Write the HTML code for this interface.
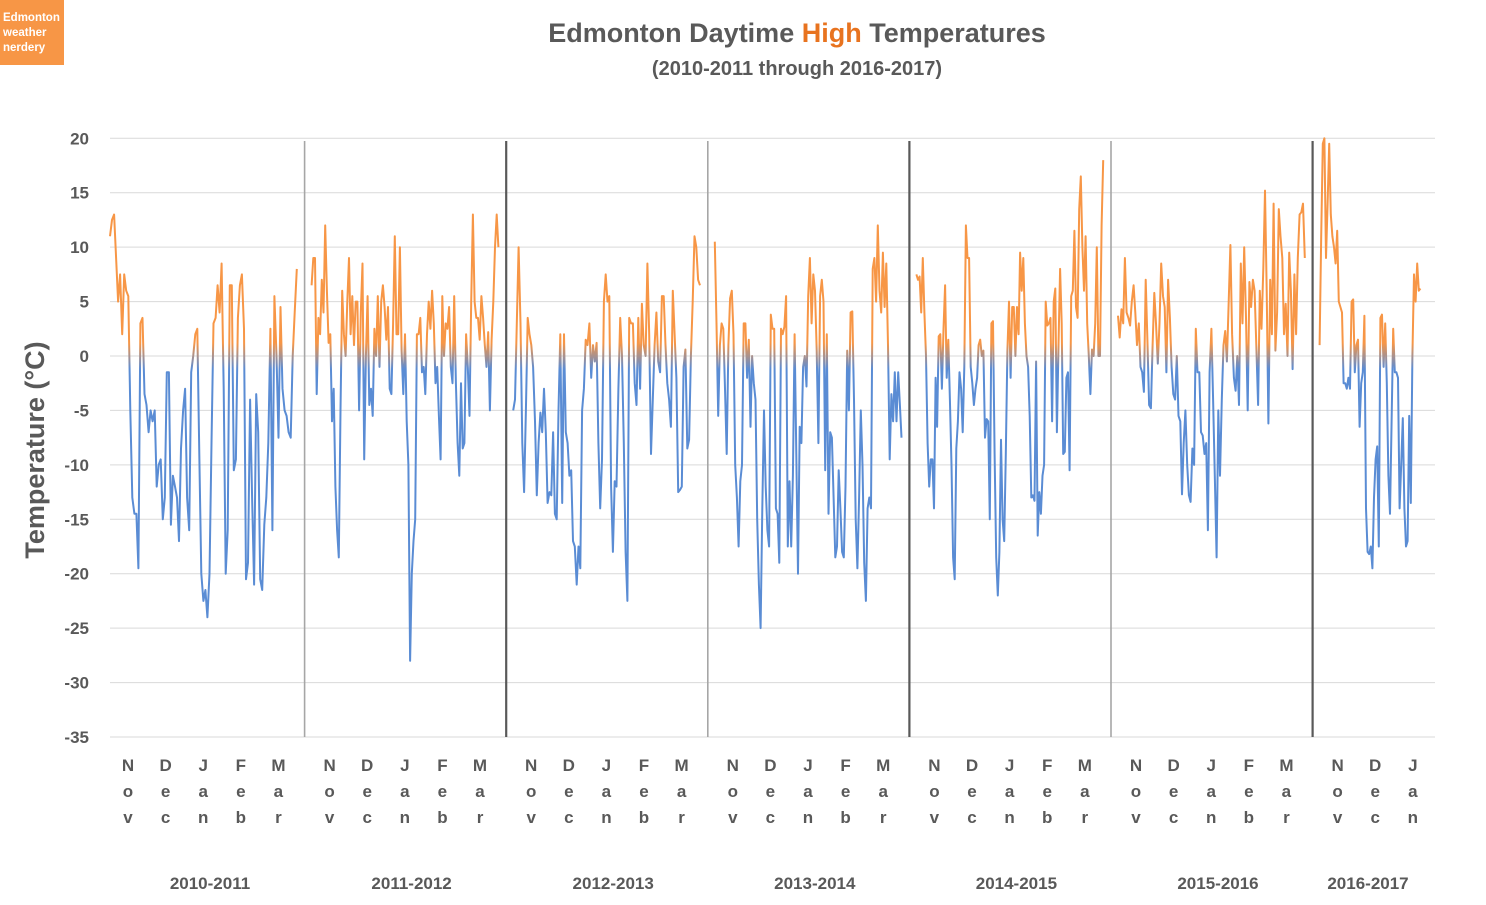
<!DOCTYPE html>
<html><head><meta charset="utf-8"><style>
body{margin:0;background:#fff;}
svg text{font-family:"Liberation Sans",sans-serif;font-weight:bold;fill:#595959;}
</style></head><body>
<svg id="chart" width="1486" height="900" viewBox="0 0 1486 900" xmlns="http://www.w3.org/2000/svg">
<defs>
<linearGradient id="lineGrad" gradientUnits="userSpaceOnUse" x1="0" y1="0" x2="0" y2="900">
<stop id="gs1" offset="0" stop-color="#F79646"/><stop id="gs2" offset="0" stop-color="#F79646"/><stop id="gs3" offset="0" stop-color="#5A8CD4"/><stop id="gs4" offset="1" stop-color="#5A8CD4"/>
</linearGradient>
</defs>
<rect x="0" y="0" width="64" height="65" fill="#F79646"/>
<text style="fill:#fff;font-size:11.5px"><tspan x="3" y="21">Edmonton</tspan><tspan x="3" y="36">weather</tspan><tspan x="3" y="51">nerdery</tspan></text>
<text x="797" y="42" text-anchor="middle" style="font-size:27px">Edmonton Daytime <tspan style="fill:#E8731F">High</tspan> Temperatures</text>
<text x="797" y="75" text-anchor="middle" style="font-size:20px">(2010-2011 through 2016-2017)</text>
<text transform="translate(44,450) rotate(-90)" text-anchor="middle" style="font-size:27px">Temperature (°C)</text>
<g id="grid"></g>
<g id="yticks"></g>
<g id="seps"></g>
<g id="series"></g>
<g id="xlabels"></g>
</svg>
<script>
const yTicks=[20,15,10,5,0,-5,-10,-15,-20,-25,-30,-35];
const seasonLabels=["2010-2011","2011-2012","2012-2013","2013-2014","2014-2015","2015-2016","2016-2017"];
const seasonLastDay=[150,150,150,150,150,150,81];
const monthsFull=["Nov","Dec","Jan","Feb","Mar"];
const monthsPartial=["Nov","Dec","Jan"];
const s2010=[11,12.5,13,9,5,7.5,2,7.5,6,5.5,-5,-13,-14.5,-14.5,-19.5,3,3.5,-3.5,-4.5,-7,-5,-6,-5,-12,-10,-9.5,-15,-13,-1.5,-1.5,-15.5,-11,-12,-13,-17,-8.5,-5,-3,-13,-16,-1.5,0,2,2.5,-9,-20,-22.5,-21.5,-24,-20,-8,3,3.5,6.5,4,8.5,-3,-20,-16,6.5,6.5,-10.5,-9.5,3.5,6.5,7.5,2.5,-20.5,-19,-4,-13,-21,-3.5,-7,-20.5,-21.5,-15.5,-13,-8,2.5,-16,5.5,0,-7.5,4.5,-3,-5,-5.5,-7,-7.5,0,4,8];
const s2011=[6.5,9,9,-3.5,3.5,2,7,4,12,6,1.2,2,-6,-3,-12,-16,-18.5,-5,6,2,0,5,9,2,5.5,1,5,5,-5,4,8.5,-9.5,0,5.5,-4.5,-3,-5.5,2.5,0,5.5,-1,5,6.5,4.5,1.5,4.5,-3,-3.5,3,11,2,2,10,0.5,-3.5,2,-6,-10,-28,-20,-17,-15,2,2,3.5,-1.5,-1,-3.5,2,5,2.5,6,3,-2.5,-1,-5.5,-9.5,5.5,0,3,2.5,4.5,-1,-2.5,5.5,-2.5,-8,-11,-2.5,-8.5,-8,2,-1,-5.5,5,13,5,3.5,3.5,1.5,5.5,3.5,1,-1,2.2,-5,1.5,5,10,13,10];
const s2012=[-5,-4,3,10,3,-8,-12.5,-5,3.5,2,1,-1,-6,-12.8,-8,-5.2,-7,-3,-7,-13.5,-12.5,-12.8,-7,-14.5,-15,-5,2,-13.5,2,-7,-8,-11,-10.5,-17,-17.5,-21,-17.5,-19.5,-5,-3,1.5,1,3,-2,1,-0.5,1.2,-8,-14,-9.5,5,7.5,5,5.5,-12,-18,-11.5,-12,-3,3.5,0,-8,-18,-22.5,3.5,3,3,-2.5,-4.5,3.5,-3,4.8,1,0,8.5,2,-9,-4,1,4,-0.5,-1.5,5.5,5.5,1,-2.5,-4,-6.5,6,2,-2,-12.5,-12.3,-12,-1,0.6,-8.5,-7.7,0,5,11,10,7,6.5];
const s2013=[10.5,3,-5.5,1,3,2.5,-3,-9,1,5.3,6,2,-10,-13,-17.5,-11.5,-10,3,3,-2,1.5,-6.5,0,-2.5,-4,-15,-21,-25,-14,-5,-12,-16,-17.5,3.8,2.5,2.5,-14,-14.5,-19,2.5,2,2.7,5.5,-17.5,-11.5,-17.5,-11,2,-9,-20,-6.5,-8,-1,0,-2.8,5.5,9,3,7.5,6,0.5,-8,5.5,7,5,-10.5,2,-14.5,-7,-7.5,-13,-18.5,-17.5,-10.5,-14,-18,-18.5,-12,0.5,-5,4,4.1,-4,-15,-19.5,-13,-5,-10,-19,-22.5,-14,-13,-14,8,9,5,12,6,4,9.5,4.5,8.5,1,-9.5,-3.5,-6,-1.5,-6,-1.5,-4.5,-7.5];
const s2014=[7.5,7,7.3,4,9,4,0,-8,-12,-9.5,-9.5,-14,-2,-6.5,1.8,2,-3,2.5,6.5,-2,1.5,-4,-10,-18.5,-20.5,-8.5,-6,-1.5,-3,-7,-1,12,9,9,-1,-2.5,-4.5,-3,-2,1,1.5,0,0.5,-7.5,-5.8,-6,-15,3,3.2,-9,-18.5,-22,-18,-7.7,-15,-17,-9,0.5,5,-2,4.5,4.5,0,4.5,2,9.5,6,9,3,0,-1,-5.5,-13,-12.8,-13.3,-0.5,-16.5,-12.5,-14.5,-11,-10,5,2.8,3,3.5,-6,5,6.2,-7,1,8,3,-9,-8.8,-2,-1.5,-10.5,5.5,6,11.5,4.5,3.5,13.5,16.5,10,6,11,3,0,-3.5,0.6,0,3,10,0,0,12,18];
const s2015=[3.7,1.7,4.3,3,9,4,3.5,2.8,5,6.5,4,1,3,-1,-1.5,-3.3,7,1.5,-4.5,-4.8,1,5.8,3,-0.7,3,8.5,5.5,4.5,-1.5,7,3.5,-1,-3.5,-4,0,-5.5,-6,-12.7,-8,-5,-10,-12.8,-13.4,-8.5,-10,2.5,-1.5,-1.5,-7,-7.3,-9,-8,-16,-1.5,2.5,-4,-11,-18.5,-5,-11,-4,1,2.3,-0.5,5,10.2,2,-2,-3.2,0,-4.5,8.5,3,10,3.5,-5,6.8,4.5,7,6,1,-4.5,6,2.5,8,15.2,6,-6.2,7,2,14,0.5,4,13.5,11,9,2,4.8,0,9.5,6,-1.2,7.5,2,9,13,13.2,14,9];
const s2016=[1,11,19.5,20,9,14,19.5,13,11,10,8.5,11.5,5,4.5,4,-2.5,-2.5,-3,-2,-3,5,5.2,-1.5,1,1.5,-6.5,-2.5,-1.5,3.7,-14,-18,-18.2,-17.5,-19.5,-13,-9.5,-8.3,-17.5,3.5,3.8,-1,3,-2.5,-11,-14.5,-6,2.5,-1.5,-1.5,-2,-14,-10,-5.7,-14,-17.5,-17,-5.5,-13.5,0,7.5,5,8.5,6,6.2];
const seasonSeries=[s2010,s2011,s2012,s2013,s2014,s2015,s2016];

const NS="http://www.w3.org/2000/svg";
const plotL=110,plotR=1435,yTop=138.3,yBot=737,vMax=20,vMin=-35;
function yScale(v){return yTop+(vMax-v)/(vMax-vMin)*(yBot-yTop);}
function seasonStart(i){return 110+i*201.6;}
function xScale(i,day){return seasonStart(i)+day*1.245;}
function mk(tag,attrs,parent){const e=document.createElementNS(NS,tag);for(const k in attrs)e.setAttribute(k,attrs[k]);parent.appendChild(e);return e;}

const grid=document.getElementById('grid'),yt=document.getElementById('yticks');
yTicks.forEach(t=>{
  const l=mk('line',{x1:plotL,x2:plotR,y1:yScale(t),y2:yScale(t),stroke:'#d9d9d9','stroke-width':1},grid);
  
  
  const tx=mk('text',{x:89,y:yScale(t)+6,'text-anchor':'end','font-size':'17'},yt);
  
  
  tx.textContent=String(t);
});
const seps=document.getElementById('seps');
for(let i=1;i<seasonLabels.length;i++){
  const x=seasonStart(i)-7;
  const dark=(i%2===0);
  const l=mk('line',{x1:x,x2:x,y1:141,y2:yBot,stroke:dark?'#595959':'#a6a6a6','stroke-width':dark?2.2:1.6},seps);
  
  
}
// gradient stops around zero
const z=yScale(0);
document.getElementById('gs2').setAttribute('offset',(yScale(1.2)/900).toFixed(4));
document.getElementById('gs3').setAttribute('offset',(yScale(-1.2)/900).toFixed(4));
const ser=document.getElementById('series');
seasonSeries.forEach((vals,i)=>{
  const n=vals.length,last=seasonLastDay[i];
  let d='';
  vals.forEach((v,k)=>{const day=k*last/(n-1);d+=(k?'L':'M')+xScale(i,day).toFixed(1)+' '+yScale(v).toFixed(1);});
  const p=mk('path',{d:d,fill:'none',stroke:'url(#lineGrad)','stroke-width':2,'stroke-linejoin':'round'},ser);
  
  
});
const xl=document.getElementById('xlabels');
seasonLabels.forEach((lab,i)=>{
  const ms=(i===seasonLabels.length-1)?monthsPartial:monthsFull;
  ms.forEach((m,j)=>{
    const cx=seasonStart(i)+18+j*37.6;
    for(let c=0;c<3;c++){
      const t=mk('text',{x:cx,y:771+c*26,'text-anchor':'middle','font-size':'17'},xl);
      
      
      t.textContent=m[c];
    }
  });
  const cx=(i===seasonLabels.length-1)?1368:seasonStart(i)+100;
  const t=mk('text',{x:cx,y:889,'text-anchor':'middle','font-size':'17'},xl);
  
  
  t.textContent=lab;
});
</script>
</body></html>
